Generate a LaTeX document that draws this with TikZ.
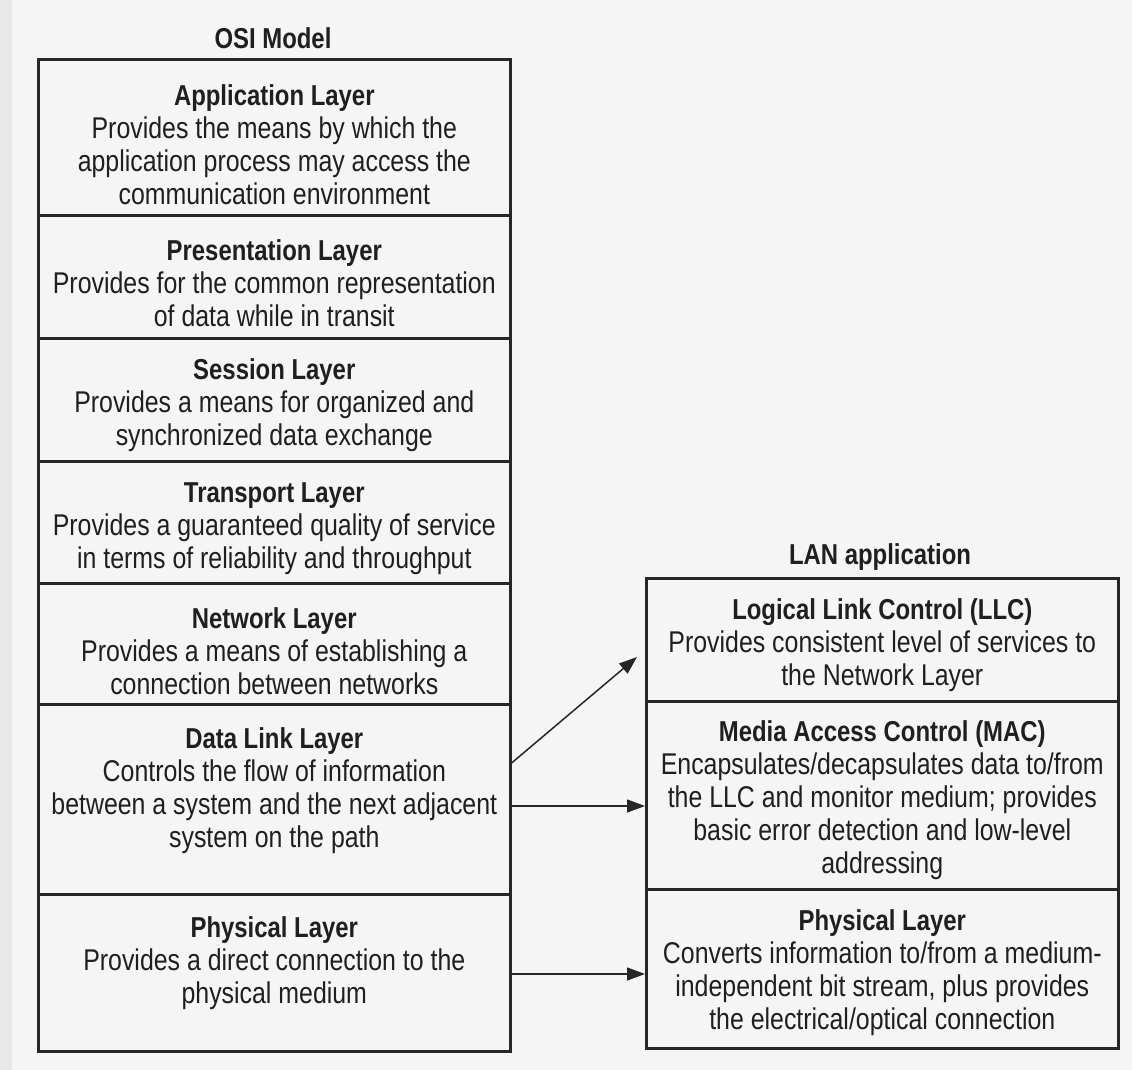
\documentclass[tikz,border=0pt]{standalone}
\usepackage{fontspec}
\setmainfont{Liberation Sans}[FakeStretch=0.83]
\usetikzlibrary{arrows.meta,calc}

\newcommand\layerhead[1]{{\fontsize{14.4}{16.5}\selectfont\bfseries #1}}

\begin{document}
\begin{tikzpicture}[
  x=0.5pt, y=-0.5pt,
  layerbox/.style={draw=black!85, line width=1.3pt, rectangle, inner sep=0pt,
                   minimum width=236pt, anchor=north west},
  layertext/.style={align=center, text=black!88, inner sep=0pt,
                    font=\fontsize{15}{16.5}\selectfont},
  stacktitle/.style={text=black!88, inner sep=0pt,
                     font=\fontsize{14.4}{16.5}\selectfont\bfseries},
  flow/.style={draw=black!85, line width=0.75pt,
               -{Triangle[length=9pt,width=6.5pt]}}
]
% page
\fill[black!4] (0,0) rectangle (1132,1070);
\fill[blue!10!black!9] (0,0) rectangle (12,1070);
\useasboundingbox (0,0) rectangle (1132,1070);

% ---------- OSI model stack ----------
\node[stacktitle] (osititle) at (273,38) {OSI Model};

\node[layerbox, minimum height=78pt]   (app)  at (37,58)  {};
\node[layerbox, minimum height=61.5pt] (pres) at (37,214) {};
\node[layerbox, minimum height=61.5pt] (sess) at (37,337) {};
\node[layerbox, minimum height=61pt]   (trans) at (37,460) {};
\node[layerbox, minimum height=60.5pt] (net)  at (37,582) {};
\node[layerbox, minimum height=95pt]   (dl)   at (37,703) {};
\node[layerbox, minimum height=78.5pt] (phys) at (37,893) {};

\node[layertext] (appt) at ($(app.center)+(0,7)$)
  {\layerhead{Application Layer}\\Provides the means by which the\\application process may access the\\communication environment};
\node[layertext] (prest) at ($(pres.center)+(0,6)$)
  {\layerhead{Presentation Layer}\\Provides for the common representation\\of data while in transit};
\node[layertext] (sesst) at ($(sess.center)+(0,5)$)
  {\layerhead{Session Layer}\\Provides a means for organized and\\synchronized data exchange};
\node[layertext] (transt) at ($(trans.center)+(0,6)$)
  {\layerhead{Transport Layer}\\Provides a guaranteed quality of service\\in terms of reliability and throughput};
\node[layertext] (nett) at ($(net.center)+(0,7)$)
  {\layerhead{Network Layer}\\Provides a means of establishing a\\connection between networks};
\node[layertext] (dlt) at ($(dl.center)+(0,-9)$)
  {\layerhead{Data Link Layer}\\Controls the flow of information\\between a system and the next adjacent\\system on the path};
\node[layertext] (physt) at ($(phys.center)+(0,-10)$)
  {\layerhead{Physical Layer}\\Provides a direct connection to the\\physical medium};

% ---------- LAN stack ----------
\node[stacktitle] (lantitle) at (880,557) {LAN application};

\node[layerbox, minimum height=61.5pt] (llc)   at (645,577) {};
\node[layerbox, minimum height=94pt]   (mac)   at (645,700) {};
\node[layerbox, minimum height=79.5pt] (lphys) at (645,888) {};

\node[layertext] (llct) at ($(llc.center)+(0,5)$)
  {\layerhead{Logical Link Control (LLC)}\\Provides consistent level of services to\\the Network Layer};
\node[layertext] (mact) at ($(mac.center)+(0,5)$)
  {\layerhead{Media Access Control (MAC)}\\Encapsulates/decapsulates data to/from\\the LLC and monitor medium; provides\\basic error detection and low-level\\addressing};
\node[layertext] (lphyst) at ($(lphys.center)+(0,4)$)
  {\layerhead{Physical Layer}\\Converts information to/from a medium-\\independent bit stream, plus provides\\the electrical/optical connection};

% ---------- mapping arrows ----------
\draw[flow] ($(dl.north east)+(0,60)$) -- ($(llc.north west)+(-8,80)$);
\draw[flow] ($(dl.north east)+(0,103)$) coordinate (dlmac) -- (dlmac -| mac.west);
\draw[flow] ($(phys.north east)+(0,81)$) coordinate (phph) -- (phph -| lphys.west);
\end{tikzpicture}
\end{document}
